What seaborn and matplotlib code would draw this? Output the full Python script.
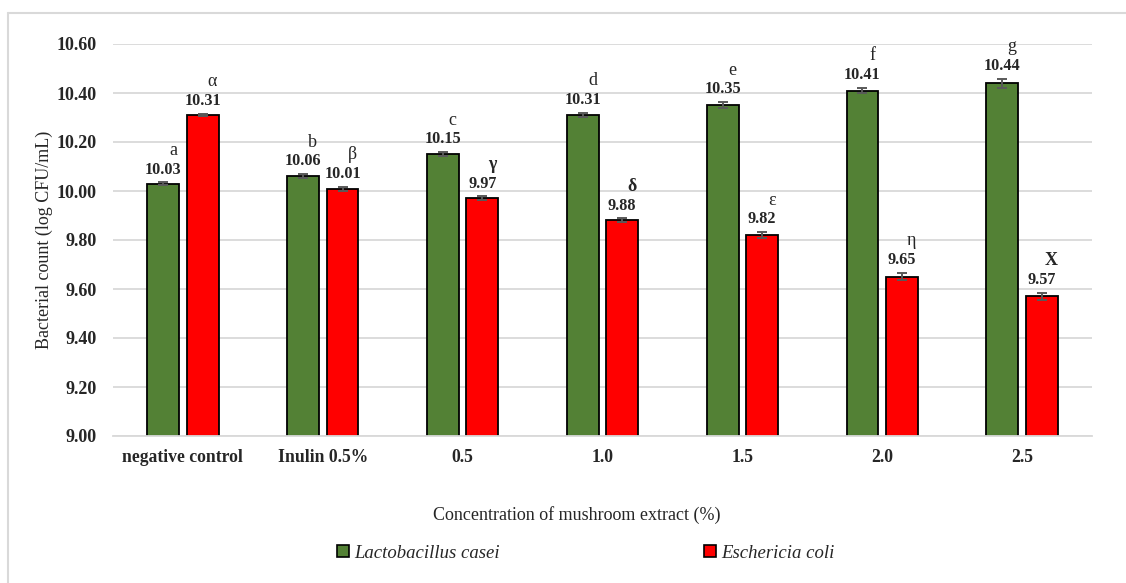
import matplotlib
matplotlib.use("Agg")
import matplotlib.pyplot as plt
from matplotlib.lines import Line2D
from matplotlib.patches import Patch
import seaborn as sns
import pandas as pd

categories = ["negative control", "Inulin 0.5%", "0.5", "1.0", "1.5", "2.0", "2.5"]
species = ["Lactobacillus casei", "Eschericia coli"]
casei_values = [10.03, 10.06, 10.15, 10.31, 10.35, 10.41, 10.44]
coli_values = [10.31, 10.01, 9.97, 9.88, 9.82, 9.65, 9.57]
casei_err = [0.005, 0.008, 0.008, 0.008, 0.012, 0.012, 0.018]
coli_err = [0.005, 0.008, 0.008, 0.008, 0.012, 0.015, 0.015]
casei_letters = ["a", "b", "c", "d", "e", "f", "g"]
coli_letters = ["α", "β", "γ", "δ", "ε", "η", "Χ"]
coli_bold = [False, False, True, True, False, False, True]
yticks = [9.00, 9.20, 9.40, 9.60, 9.80, 10.00, 10.20, 10.40, 10.60]

colors = {"Lactobacillus casei": "#538135", "Eschericia coli": "#FF0000"}
grid_color = "#D9D9D9"

sns.set_theme(style="white")
plt.rcParams["font.family"] = ["Liberation Serif", "DejaVu Serif"]

df = pd.DataFrame({
    "category": categories * 2,
    "species": [species[0]] * len(categories) + [species[1]] * len(categories),
    "count": casei_values + coli_values,
})

W, H = 1126, 583
fig = plt.figure(figsize=(W / 100, H / 100), dpi=100)
ax = fig.add_axes([113 / W, (H - 436) / H, (1092 - 113) / W, (436 - 44) / H])

sns.barplot(data=df, x="category", y="count", hue="species", order=categories,
            hue_order=species, palette=colors, saturation=1, width=0.564, gap=0.19,
            edgecolor="black", linewidth=1.3, errorbar=None, legend=False, ax=ax)

ax.set_ylim(9.0, 10.6)
ax.set_xlim(-0.5, len(categories) - 0.5)
ax.set_yticks(yticks)
ax.set_yticklabels([f"{t:.2f}" for t in yticks])
ax.yaxis.grid(True, color=grid_color, linewidth=1.3)
ax.set_axisbelow(True)
for s in ["left", "top", "right"]:
    ax.spines[s].set_visible(False)
ax.spines["bottom"].set_color(grid_color)
ax.spines["bottom"].set_linewidth(1.3)
ax.tick_params(axis="both", length=0)
ax.tick_params(axis="y", pad=12, labelsize=13)
ax.tick_params(axis="x", pad=9, labelsize=12.7)
for lab in ax.get_xticklabels() + ax.get_yticklabels():
    lab.set_fontweight("bold")
ax.set_xlabel("")
ax.set_ylabel("Bacterial count (log CFU/mL)", fontsize=13, labelpad=2)

series = [
    (casei_values, casei_err, casei_letters, [False] * len(categories)),
    (coli_values, coli_err, coli_letters, coli_bold),
]
for container, (vals, errs, letters, bolds) in zip(ax.containers, series):
    xs = [p.get_x() + p.get_width() / 2 for p in container.patches]
    ax.errorbar(xs, vals, yerr=errs, fmt="none", ecolor="#595959",
                elinewidth=1.4, capsize=3.5, capthick=1.4, zorder=5)
    for x, v, e, letter, b in zip(xs, vals, errs, letters, bolds):
        ax.annotate(f"{v:.2f}", (x, v + e), xytext=(0, 3.5), textcoords="offset points",
                    ha="center", va="bottom", fontsize=11.7, fontweight="bold")
        ax.annotate(letter, (x, v + e), xytext=(7, 17), textcoords="offset points",
                    ha="center", va="bottom", fontsize=13,
                    fontweight="bold" if b else "normal")

fig.text(577 / W, (H - 515) / H, "Concentration of mushroom extract (%)",
         ha="center", va="center", fontsize=13)

handles = [Patch(facecolor=colors[s], edgecolor="black", linewidth=1.2) for s in species]
leg = fig.legend(handles, species, loc="center", bbox_to_anchor=(586 / W, (H - 553) / H),
                 ncol=2, frameon=False, handlelength=0.6, handleheight=0.6,
                 handletextpad=0.3, columnspacing=10.9,
                 prop={"family": "Liberation Serif", "style": "italic", "size": 13.5})

# outer frame around the chart area
fig.add_artist(Line2D([8 / W, 1.0], [(H - 13) / H] * 2, color=grid_color, linewidth=1.5,
                      transform=fig.transFigure))
fig.add_artist(Line2D([8 / W] * 2, [0.0, (H - 13) / H], color=grid_color, linewidth=1.5,
                      transform=fig.transFigure))

fig.savefig("out.png", dpi=100)
